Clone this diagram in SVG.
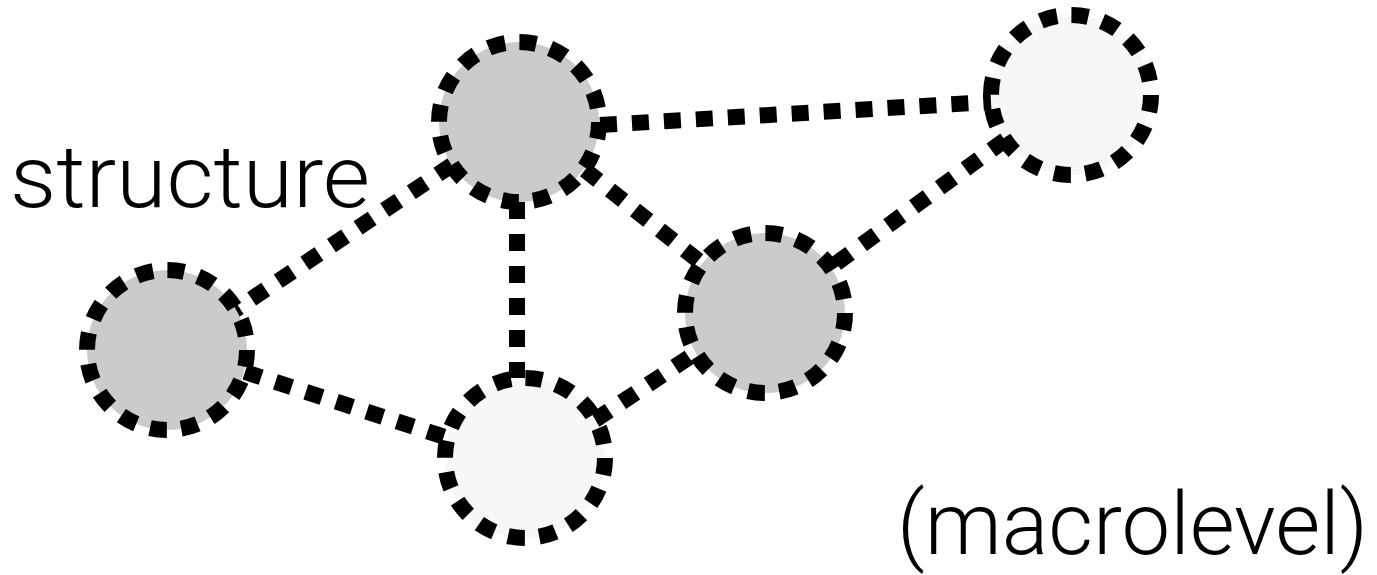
<svg xmlns="http://www.w3.org/2000/svg" width="1377" height="575" viewBox="0 0 1377 575">
<style>
.edge{stroke:#000;stroke-width:16;stroke-dasharray:17 15;fill:none}
.node{stroke:#000;stroke-width:16;stroke-dasharray:17 14.4}
.dark{fill:#cbcbcb}
.light{fill:#f7f7f7}
.lbl{font-family:Roboto,"Liberation Sans",Arial,sans-serif;font-weight:300;font-size:88px;fill:#000}
</style>
<rect width="1377" height="575" fill="#fff"/>
<g id="connectors">
<line class="edge" x1="600" y1="125" x2="991" y2="102"/>
<line class="edge" x1="452" y1="165" x2="235" y2="310"/>
<line class="edge" x1="517" y1="202" x2="517" y2="378"/>
<line class="edge" x1="585" y1="170" x2="700" y2="262"/>
<line class="edge" x1="1005" y1="140" x2="830" y2="268"/>
<line class="edge" x1="245" y1="372" x2="448" y2="438"/>
<line class="edge" x1="595" y1="420" x2="700" y2="350"/>
</g>
<g id="node-top"><circle class="node dark" cx="519" cy="122" r="80"/></g>
<g id="node-topright"><circle class="node light" cx="1071" cy="95" r="80"/></g>
<g id="node-left"><circle class="node dark" cx="167" cy="350" r="80"/></g>
<g id="node-mid"><circle class="node dark" cx="765" cy="313" r="80"/></g>
<g id="node-bottom"><circle class="node light" cx="525" cy="458" r="80"/></g>
<text class="lbl" x="10" y="207" textLength="360" lengthAdjust="spacingAndGlyphs">structure</text>
<text class="lbl" x="897" y="554" font-size="85" textLength="471" lengthAdjust="spacingAndGlyphs">(macrolevel)</text>
</svg>
